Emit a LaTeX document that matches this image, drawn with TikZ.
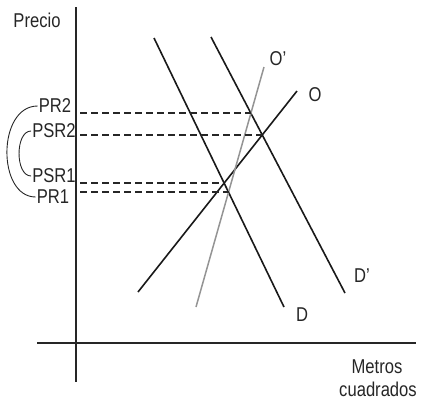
\documentclass[tikz,border=0pt]{standalone}
\usepackage{fontspec}
\setmainfont[FakeStretch=0.83]{Liberation Sans}
\begin{document}
\begin{tikzpicture}[x=1pt,y=-1pt,
  lbl/.style={font=\fontsize{20}{22}\selectfont, text=black!85, inner sep=1pt},
  curve/.style={line width=1.6pt, draw=black!90},
  grayline/.style={line width=1.5pt, draw=black!42},
  axis/.style={line width=1.6pt, draw=black!85},
  guide/.style={line width=1.5pt, draw=black!85, dash pattern=on 7pt off 4pt},
  brace/.style={line width=0.9pt, draw=black!85}]
\useasboundingbox (0,0) rectangle (421,410);
% axes
\coordinate (yTop) at (76,7);
\coordinate (yBot) at (76,382);
\coordinate (xL) at (37,343);
\coordinate (xR) at (416,343);
\draw[axis] (yTop) -- (yBot);
\draw[axis] (xL) -- (xR);
% curve end points
\coordinate (Dt) at (154,38);   \coordinate (Db) at (284,307);
\coordinate (Dpt) at (211,37);  \coordinate (Dpb) at (345,293);
\coordinate (Ot) at (297,91);   \coordinate (Ob) at (138,292);
\coordinate (Opt) at (264,67);  \coordinate (Opb) at (196,307);
\draw[curve] (Dt) -- (Db);
\draw[curve] (Dpt) -- (Dpb);
\draw[curve] (Ob) -- (Ot);
\draw[grayline] (Opb) -- (Opt);
% intersections
\coordinate (iPR2) at (intersection of Opt--Opb and Dpt--Dpb);
\coordinate (iPSR2) at (intersection of Ot--Ob and Dpt--Dpb);
\coordinate (iPSR1) at (intersection of Ot--Ob and Dt--Db);
\coordinate (iPR1) at (intersection of Opt--Opb and Dt--Db);
\coordinate (gx) at (80,0);
\draw[guide] (gx |- iPR2) -- (iPR2);
\draw[guide] (gx |- iPSR2) -- (iPSR2);
\draw[guide] (gx |- iPSR1) -- (iPSR1);
\draw[guide] (gx |- iPR1) -- (iPR1);
% labels
\node[lbl] (precio) at (37,20) {Precio};
\node[lbl] (pr2) at (55,106) {PR2};
\node[lbl] (psr2) at (54,131) {PSR2};
\node[lbl] (psr1) at (54,176) {PSR1};
\node[lbl] (pr1) at (53,197) {PR1};
\node[lbl] (lOp) at (278,59) {O’};
\node[lbl] (lO) at (315,95) {O};
\node[lbl] (lDp) at (362,276) {D’};
\node[lbl] (lD) at (302,315) {D};
\node[lbl] (metros) at (377,367) {Metros};
\node[lbl] (cuad) at (378,389) {cuadrados};
% brackets
\draw[brace] (pr2.west) .. controls (-3,106) and (-3,197) .. (pr1.west);
\draw[brace] (psr2.west) .. controls (15,131) and (15,176) .. (psr1.west);
\end{tikzpicture}
\end{document}
